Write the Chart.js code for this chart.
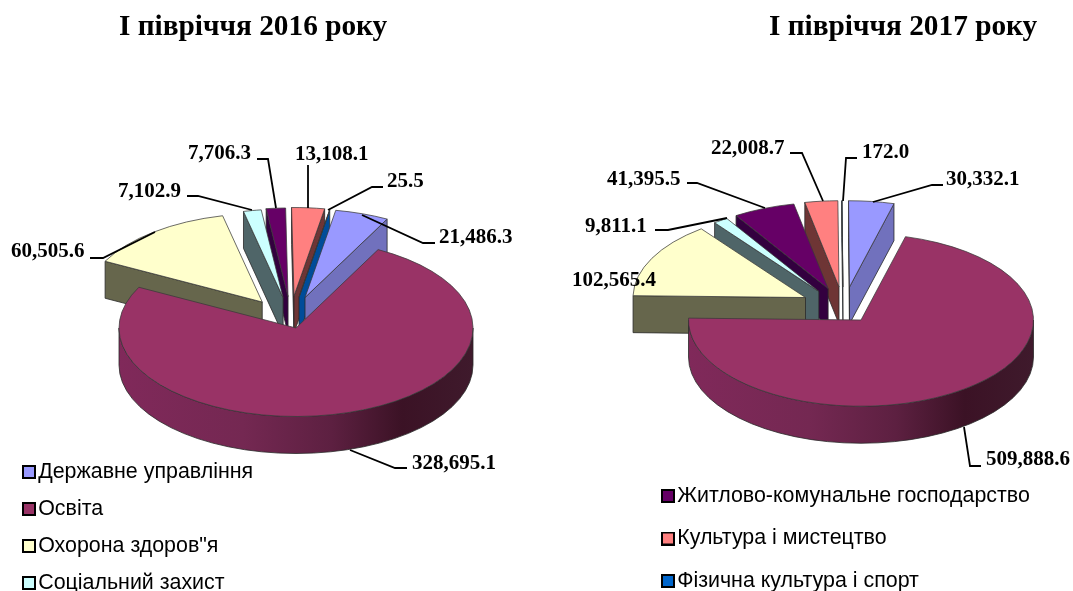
<!DOCTYPE html>
<html><head><meta charset="utf-8">
<style>html,body{margin:0;padding:0;background:#fff;overflow:hidden}
canvas{position:absolute;left:0;top:0}</style>
<script src="https://cdn.jsdelivr.net/npm/chart.js@4"></script></head>
<body><canvas id="a" width="1073" height="591"></canvas><canvas id="b" width="1073" height="591"></canvas>
<script>
const categories = ['Державне управління','Освіта','Охорона здоров"я','Соціальний захист','Житлово-комунальне господарство','Культура і мистецтво','Фізична культура і спорт'];
const values2016 = [21486.3,328695.1,60505.6,7102.9,7706.3,13108.1,25.5];
const values2017 = [30332.1,509888.6,102565.4,9811.1,41395.5,22008.7,172.0];
const titleText2016 = 'І півріччя 2016 року';
const titleText2017 = 'І півріччя 2017 року';
const topColors = ['#9999FF','#993366','#FFFFCC','#CCFFFF','#660066','#FF8080','#0066CC'];
const sideColors = ['#7171BD','#7d2a55','#66664C','#4F6568','#33003F','#6E3535','#004C99'];

// Explosion of each slice, distance and direction (degrees clockwise from top)
const explodeDist2016 = [61.7,0,62,62,63.5,64,62];
const explodeDir2016  = [8.4,0,-33,-12,-7.2,-1.8,2.8];
const explodeDist2017 = [67,0,71.4,71,71,69.6,68.4];
const explodeDir2017  = [-9.9,0,-51,-36.4,-27.6,-18.4,-15.3];

// Annotation layout: text left / middle, then leader polyline
const labels2016 = [
 {x:439,y:236,l:[[435,243],[423,243],[362,215]]},
 {x:412,y:462,l:[[407,468],[395,468],[350,450]]},
 {x:11,y:250,l:[[90,258],[103,258],[155,232]]},
 {x:118,y:190,l:[[187,196],[198,196],[252,210]]},
 {x:188,y:152,l:[[257,159],[268,159],[276,208]]},
 {x:295,y:153,l:[[308,165],[308,208]]},
 {x:387,y:180,l:[[383,187],[372,187],[328,210]]}];
const labels2017 = [
 {x:946,y:178,l:[[943,185],[932,185],[873,202]]},
 {x:986,y:458,l:[[981,466],[970,466],[964,427]]},
 {x:572,y:279,l:[]},
 {x:585,y:225,l:[[655,230],[668,230],[727,218]]},
 {x:607,y:178,l:[[687,183],[697,183],[765,208]]},
 {x:711,y:147,l:[[790,153],[802,153],[823,201]]},
 {x:862,y:151,l:[[857,158],[846,158],[843,201]]}];

const TILT = 0.5, DEPTH = 37;
const RAD = Math.PI/180;

function legendBox(color){
  const c=document.createElement('canvas'); c.width=18; c.height=14;
  const g=c.getContext('2d');
  g.fillStyle=color; g.fillRect(5,1,12,12);
  g.strokeStyle='#000'; g.lineWidth=2; g.strokeRect(5,1,12,12);
  return c;
}

function makeChart(id,values,cfg){
  const d0=i=>cfg.dist[i]===0;
  const pie3d = {
    id:'pie3d',
    afterLayout(chart){
      const t=chart.titleBlock; t.left=cfg.titleX; t.right=cfg.titleX+400; t.top=cfg.titleY;
      const lg=chart.legend; lg.left=cfg.legendX; lg.top=cfg.legendY; lg.bottom=900;
    },
    beforeDatasetDraw(chart,args){
      const ctx=chart.ctx, arcs=args.meta.data;
      const parts=arcs.map((arc,i)=>{
        const mid=(arc.startAngle+arc.endAngle)/2, dir=cfg.dir[i]*RAD-Math.PI/2, d=cfg.dist[i];
        return {arc,i,ax:cfg.cx+Math.cos(dir)*d,ay:cfg.cy+Math.sin(dir)*d*TILT,rank:d===0?9:Math.abs(Math.cos(mid))};
      }).sort((p,q)=>p.rank-q.rank);
      ctx.save();
      ctx.lineJoin='round';
      parts.forEach(p=>{
        const {arc,ax,ay,i}=p, r=arc.outerRadius, s=arc.startAngle, e=arc.endAngle;
        const X=a=>ax+r*Math.cos(a), Y=a=>ay+r*TILT*Math.sin(a);
        ctx.strokeStyle='#2a2a2a'; ctx.lineWidth=0.8;
        const wall=a=>{
          ctx.beginPath(); ctx.moveTo(ax,ay); ctx.lineTo(X(a),Y(a));
          ctx.lineTo(X(a),Y(a)+DEPTH); ctx.lineTo(ax,ay+DEPTH); ctx.closePath();
          ctx.fillStyle=sideColors[i]; ctx.fill(); ctx.stroke();
        };
        if(Math.cos(s)<0) wall(s);
        if(Math.cos(e)>0) wall(e);
        for(let k=-1;k<=1;k++){
          const lo=Math.max(s,2*Math.PI*k), hi=Math.min(e,Math.PI+2*Math.PI*k);
          if(hi<=lo) continue;
          ctx.beginPath();
          ctx.ellipse(ax,ay,r,r*TILT,0,lo,hi);
          ctx.ellipse(ax,ay+DEPTH,r,r*TILT,0,hi,lo,true);
          ctx.closePath();
          const g=ctx.createLinearGradient(ax-r,0,ax+r,0);
          if(d0(i)){
            g.addColorStop(0,'#80295a');g.addColorStop(.35,'#742852');g.addColorStop(.6,'#5d2041');
            g.addColorStop(.8,'#3b1225');g.addColorStop(1,'#3f1a2c');
            ctx.fillStyle=g;
          } else ctx.fillStyle=sideColors[i];
          ctx.fill(); ctx.stroke();
        }
        ctx.save();
        ctx.translate(ax,ay); ctx.scale(1,TILT); ctx.translate(-arc.x,-arc.y);
        arc.draw(ctx);
        ctx.restore();
      });
      ctx.restore();
      return false;
    },
    afterDraw(chart){
      const ctx=chart.ctx;
      ctx.save();
      ctx.font='bold 21px "Liberation Serif"';
      ctx.textBaseline='middle'; ctx.textAlign='left'; ctx.fillStyle='#000';
      ctx.strokeStyle='#000'; ctx.lineWidth=1.8;
      cfg.labels.forEach((lb,i)=>{
        if(lb.l.length){
          ctx.beginPath();
          lb.l.forEach((p,j)=>j?ctx.lineTo(p[0],p[1]):ctx.moveTo(p[0],p[1]));
          ctx.stroke();
        }
        ctx.fillText(values[i].toLocaleString('en-US',{minimumFractionDigits:1,maximumFractionDigits:1}),lb.x,lb.y+2);
      });
      ctx.restore();
    }
  };
  return new Chart(document.getElementById(id),{
    type:'pie',
    data:{labels:categories,datasets:[{data:values,backgroundColor:topColors,borderColor:'#3a3a3a',borderWidth:1}]},
    options:{
      responsive:false,animation:false,rotation:cfg.rotation,radius:cfg.radius,
      events:[],
      plugins:{
        tooltip:{enabled:false},
        title:{display:true,text:cfg.title,align:'start',color:'#000',padding:0,
          font:{family:'"Liberation Serif"',size:29.3,weight:'bold'}},
        legend:{position:'chartArea',align:'start',
          labels:{
            font:{family:'"Liberation Sans"',size:21.4},color:'#000',
            usePointStyle:true,boxWidth:1,boxHeight:12,padding:cfg.legendPad,
            generateLabels:()=>cfg.legendItems.map(i=>({text:categories[i],pointStyle:legendBox(topColors[i]),fontColor:'#000',hidden:false,lineWidth:0,index:i}))
          }}
      }
    },
    plugins:[pie3d]
  });
}

makeChart('a',values2016,{cx:296,cy:328,radius:177,rotation:10,dist:explodeDist2016,dir:explodeDir2016,labels:labels2016,
  title:titleText2016,titleX:119,titleY:10,legendX:10.9,legendY:445.7,legendPad:15.6,legendItems:[0,1,2,3]});
makeChart('b',values2017,{cx:861,cy:320,radius:172.5,rotation:-0.3,dist:explodeDist2017,dir:explodeDir2017,labels:labels2017,
  title:titleText2017,titleX:769,titleY:10,legendX:644.4,legendY:464.2,legendPad:21.1,legendItems:[4,5,6]});
</script></body></html>
